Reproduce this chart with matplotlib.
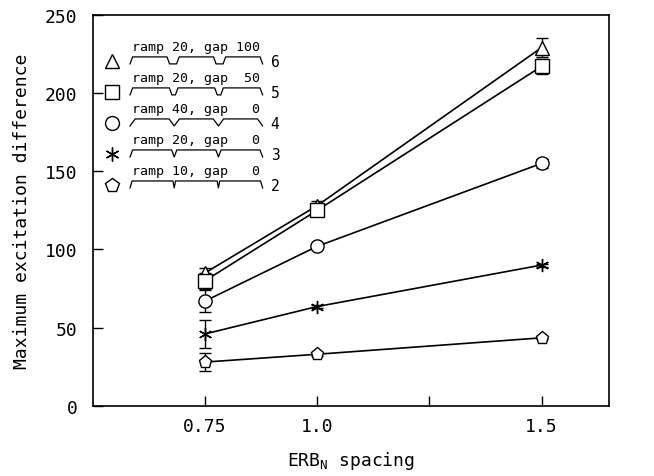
import numpy as np
import matplotlib
matplotlib.use("Agg")
import matplotlib.pyplot as plt

plt.rcParams['font.family'] = 'DejaVu Sans Mono'
plt.rcParams['mathtext.fontset'] = 'custom'
plt.rcParams['mathtext.rm'] = 'DejaVu Sans Mono'

# ERB_N spacing of the three conditions
spacing = [0.75, 1.0, 1.5]

# maximum excitation difference, one list per stimulus type
tri_y = [85, 128, 229]
tri_err = [3, 3, 6]
sq_y = [80, 125, 217]
sq_err = [5, 2, 5]
circ_y = [67, 102, 155]
circ_err = [7, 2, 3]
star_y = [46, 63.5, 90]
star_err = [9, 1, 1]
pent_y = [28, 33, 43.5]
pent_err = [6, 1, 1]

ramps = [20, 20, 40, 20, 10]
gaps = [100, 50, 0, 0, 0]
labels_num = ['6', '5', '4', '3', '2']

xticks = [0.75, 1.0, 1.25, 1.5]
xticklabels = ['0.75', '1.0', '', '1.5']
yticks = [0, 50, 100, 150, 200, 250]

star_marker = (6, 2, 0)
series = [
    (tri_y, tri_err, '^'),
    (sq_y, sq_err, 's'),
    (circ_y, circ_err, 'o'),
    (star_y, star_err, star_marker),
    (pent_y, pent_err, 'p'),
]

fig = plt.figure(figsize=(6.54, 4.77), dpi=100)
ax = fig.add_axes([0.142, 0.147, 0.789, 0.820])

for y, e, m in series:
    ax.errorbar(spacing, y, yerr=e, color='black', lw=1.2, marker=m,
                markersize=9.5, mfc='white', mec='black', mew=1.0,
                capsize=4, elinewidth=1.0, capthick=1.0)

ax.set_xlim(0.5, 1.65)
ax.set_ylim(0, 250)
ax.set_xticks(xticks)
ax.set_xticklabels(xticklabels)
ax.set_yticks(yticks)
ax.tick_params(direction='in', length=7, width=1, labelsize=13)
ax.tick_params(axis='y', pad=11)
ax.tick_params(axis='x', pad=8)
for s in ax.spines.values():
    s.set_linewidth(1.2)

ax.set_ylabel('Maximum excitation difference', fontsize=13, labelpad=10)
ax.set_xlabel(r'ERB$_\mathrm{N}$ spacing', fontsize=13, labelpad=10)

# legend: marker, schematic of the three-tone stimulus, description, number
mk_x = 0.037
wav_x0, wav_x1 = 0.072, 0.329
y0 = 0.882
dy = 0.0793
h = 7.0 / 391
depth_lo = 3.0 / 391
width_px = 133.0
for i, (y, e, m) in enumerate(series):
    ym = y0 - i * dy
    ax.plot([mk_x], [ym], marker=m, markersize=10, mfc='white', mec='black',
            mew=1.0, color='black', transform=ax.transAxes, clip_on=False)
    r = ramps[i] * 0.13 / width_px * (wav_x1 - wav_x0)
    g = gaps[i] * 0.07 / width_px * (wav_x1 - wav_x0)
    d = (wav_x1 - wav_x0 - 2 * g) / 3.0
    lo = ym - depth_lo
    hi = lo + h
    xs, ys = [], []
    x = wav_x0
    for k in range(3):
        rr = max(r, 0.004) if k == 0 else r
        re = max(r, 0.004) if k == 2 else r
        xs += [x, x + rr, x + d - re, x + d]
        ys += [lo, hi, hi, lo]
        x += d + g
    ax.plot(xs, ys, color='black', lw=0.9, transform=ax.transAxes)
    ax.text(wav_x0 + 0.004, ym + 14.0 / 391,
            'ramp %d, gap %3d' % (ramps[i], gaps[i]),
            transform=ax.transAxes, fontsize=9.5, va='center', ha='left')
    ax.text(0.353, ym - 1.0 / 391, labels_num[i], transform=ax.transAxes,
            fontsize=10.5, va='center', ha='center')

fig.savefig('out.png', dpi=100)
